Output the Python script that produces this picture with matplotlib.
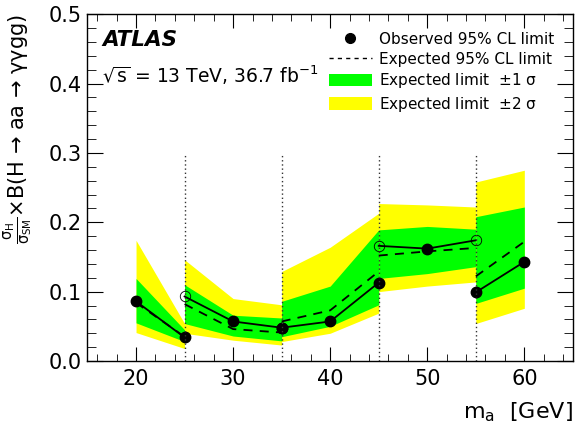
import matplotlib
matplotlib.use("Agg")
import matplotlib.pyplot as plt
from matplotlib.lines import Line2D
from matplotlib.patches import Patch
from matplotlib.ticker import MultipleLocator, FormatStrFormatter

plt.rcParams['mathtext.default'] = 'regular'

# Limits, one list per mass segment (segments split at 25, 35, 45, 55 GeV)
seg_mass = [[20, 25], [25, 30, 35], [35, 40, 45], [45, 50, 55], [55, 60]]
obs = [[0.086, 0.034], [0.093, 0.057, 0.048], [0.048, 0.057, 0.113],
       [0.166, 0.162, 0.174], [0.099, 0.143]]
exp = [[0.084, 0.035], [0.082, 0.046, 0.041], [0.057, 0.073, 0.129],
       [0.152, 0.158, 0.163], [0.122, 0.172]]
exp_p1 = [[0.119, 0.045], [0.110, 0.066, 0.062], [0.086, 0.108, 0.189],
          [0.189, 0.194, 0.190], [0.208, 0.222]]
exp_m1 = [[0.055, 0.028], [0.054, 0.036, 0.029], [0.035, 0.050, 0.081],
          [0.119, 0.126, 0.136], [0.083, 0.105]]
exp_p2 = [[0.174, 0.054], [0.146, 0.090, 0.081], [0.129, 0.164, 0.213],
          [0.227, 0.225, 0.222], [0.258, 0.275]]
exp_m2 = [[0.041, 0.018], [0.040, 0.030, 0.023], [0.028, 0.040, 0.069],
          [0.100, 0.108, 0.114], [0.054, 0.076]]
# open markers: segment ends that do not carry the filled point
open_mass = [25, 45, 55]
open_val = [0.093, 0.166, 0.174]
boundaries = [25, 35, 45, 55]

fig, ax = plt.subplots(figsize=(5.81, 4.29), dpi=100)
fig.subplots_adjust(left=0.1506, right=0.986, bottom=0.1585, top=0.967)

for i in range(len(seg_mass)):
    m = seg_mass[i]
    ax.fill_between(m, exp_m2[i], exp_p2[i], color='#ffff00', lw=0, zorder=1)
    ax.fill_between(m, exp_m1[i], exp_p1[i], color='#00ff00', lw=0, zorder=2)
    ax.plot(m, exp[i], color='black', ls=(0, (5, 4)), lw=1.3, zorder=3)
    ax.plot(m, obs[i], color='black', lw=1.3, zorder=4)

# filled observed points
filled_m, filled_v = [], []
for i in range(len(seg_mass)):
    for m, v in zip(seg_mass[i], obs[i]):
        if not any(m == om and abs(v - ov) < 1e-9 for om, ov in zip(open_mass, open_val)):
            filled_m.append(m)
            filled_v.append(v)
ax.plot(filled_m, filled_v, 'o', color='black', ms=7.5, zorder=5)
ax.plot(open_mass, open_val, 'o', mfc='none', mec='black', mew=0.6, ms=7.5, zorder=5)

for b in boundaries:
    ax.plot([b, b], [0, 0.3], color='#333333', ls=(0, (1, 2)), lw=1, zorder=6)

ax.set_xlim(15, 65)
ax.set_ylim(0, 0.5)
ax.xaxis.set_major_locator(MultipleLocator(10))
ax.xaxis.set_minor_locator(MultipleLocator(2))
ax.yaxis.set_major_locator(MultipleLocator(0.1))
ax.yaxis.set_minor_locator(MultipleLocator(0.02))
ax.yaxis.set_major_formatter(FormatStrFormatter('%.1f'))
ax.tick_params(which='both', direction='in', top=True, right=True, labelsize=15)
ax.tick_params(axis='x', which='major', length=10, pad=6)
ax.tick_params(axis='x', which='minor', length=5)
ax.tick_params(axis='y', which='major', length=11.5, pad=4)
ax.tick_params(axis='y', which='minor', length=6.5)
for s in ax.spines.values():
    s.set_linewidth(1.0)

ax.set_xlabel('m$_a$  [GeV]', loc='right', fontsize=16, labelpad=8)
ax.set_ylabel(r'$\frac{\sigma_H}{\sigma_{SM}}$×B(H → aa → γγgg)', loc='top',
              fontsize=15, labelpad=10)

ax.text(0.03, 0.925, 'ATLAS', transform=ax.transAxes, fontsize=15.5,
        fontweight='bold', fontstyle='italic', va='center')
ax.text(0.03, 0.825, r'$\sqrt{s}$ = 13 TeV, 36.7 fb$^{-1}$', transform=ax.transAxes,
        fontsize=13.5, va='center')

handles = [
    Line2D([], [], marker='o', color='black', ls='none', ms=7),
    Line2D([], [], color='black', ls=(0, (3, 3)), lw=1),
    Patch(facecolor='#00ff00', edgecolor='none'),
    Patch(facecolor='#ffff00', edgecolor='none'),
]
labels = ['Observed 95% CL limit', 'Expected 95% CL limit',
          r'Expected limit  ±1 $\sigma$', r'Expected limit  ±2 $\sigma$']
ax.legend(handles, labels, loc='upper right', bbox_to_anchor=(0.98, 0.975),
          frameon=False, fontsize=11, handlelength=2.8, handleheight=0.9,
          labelspacing=0.3, handletextpad=0.45, borderaxespad=0.2)

fig.savefig('out.png', dpi=100)
